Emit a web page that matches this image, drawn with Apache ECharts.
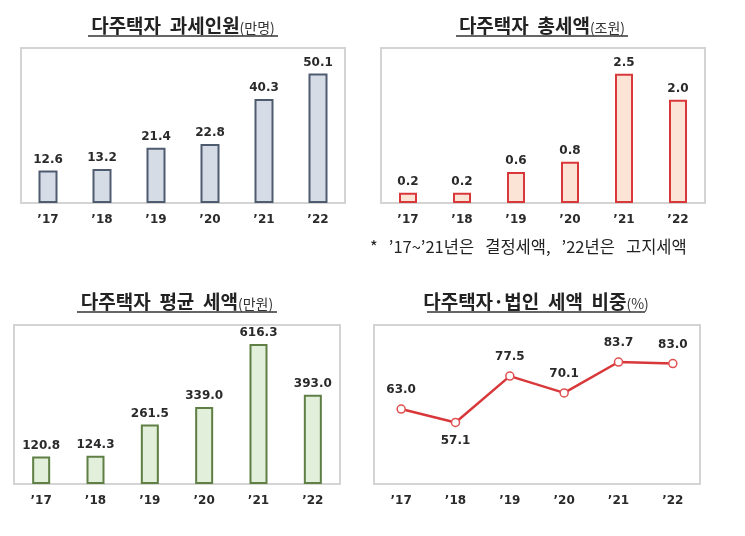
<!DOCTYPE html>
<html>
<head>
<meta charset="utf-8">
<script src="https://cdn.jsdelivr.net/npm/echarts@6/dist/echarts.min.js"></script>
<style>
html,body{margin:0;padding:0;background:#fff;}
#c{width:745px;height:536px;}
</style>
</head>
<body>
<div id="c"></div>
<script>
const years = ["’17", "’18", "’19", "’20", "’21", "’22"];
const taxpayers = [12.6, 13.2, 21.4, 22.8, 40.3, 50.1];
const totalTax = [0.2, 0.2, 0.6, 0.8, 2.5, 2.0];
const avgTax = [120.8, 124.3, 261.5, 339.0, 616.3, 393.0];
const share = [63.0, 57.1, 77.5, 70.1, 83.7, 83.0];
const shareLabelPos = ["top", "bottom", "top", "top", "top", "top"];

const FONT = '"Noto Sans CJK KR", "Noto Sans", sans-serif';
const NUMFONT = '"DejaVu Sans", Verdana, sans-serif';
const chart = echarts.init(document.getElementById('c'), null, {renderer: 'canvas'});

const grids = [
  {left: 21, top: 48, width: 324, height: 155},
  {left: 381, top: 48, width: 324, height: 155},
  {left: 14, top: 325, width: 326, height: 159},
  {left: 374, top: 325, width: 326, height: 159}
];
const yRange = [[0, 60], [0, 3], [0, 700], [30, 100]];

function titleText(main, sub, x, y, uw) {
  return [
    {type: 'text', x: x, y: y, style: {
      text: '{a|' + main + '}{b|' + sub + '}',
      align: 'center', verticalAlign: 'middle',
      rich: {
        a: {fontFamily: FONT, fontSize: 19, fontWeight: 'bold', fill: '#222'},
        b: {fontFamily: FONT, fontSize: 14, fill: '#333', padding: [3, 0, 0, 0]}
      }
    }},
    {type: 'line', shape: {x1: x - uw / 2, y1: y + 10, x2: x + uw / 2, y2: y + 10},
      style: {stroke: '#333', lineWidth: 1.5}}
  ];
}

const labelStyle = {fontFamily: NUMFONT, fontSize: 12, fontWeight: 'bold', color: '#2a2a2a'};
const fmt = p => Number(p.value).toFixed(1);

const option = {
  backgroundColor: '#fff',
  animation: false,
  grid: grids.map(g => Object.assign({show: true, borderColor: '#d4d4d4', borderWidth: 2, backgroundColor: '#fff', containLabel: false}, g)),
  xAxis: grids.map((g, i) => ({
    type: 'category', gridIndex: i, data: years, boundaryGap: true,
    axisLine: {show: false}, axisTick: {show: false},
    axisLabel: {fontFamily: NUMFONT, fontSize: 12, fontWeight: 'bold', color: '#2a2a2a', margin: 11}
  })),
  yAxis: grids.map((g, i) => ({
    type: 'value', gridIndex: i, min: yRange[i][0], max: yRange[i][1],
    show: false, splitLine: {show: false}
  })),
  series: [
    {type: 'bar', xAxisIndex: 0, yAxisIndex: 0, data: taxpayers, barWidth: 19,
      itemStyle: {color: '#d6dce5', borderColor: '#4f5b6e', borderWidth: 2},
      label: Object.assign({show: true, position: 'top', distance: 5, formatter: fmt}, labelStyle)},
    {type: 'bar', xAxisIndex: 1, yAxisIndex: 1, data: totalTax, barWidth: 18,
      itemStyle: {color: '#fbe3d6', borderColor: '#d9383a', borderWidth: 2},
      label: Object.assign({show: true, position: 'top', distance: 5, formatter: fmt}, labelStyle)},
    {type: 'bar', xAxisIndex: 2, yAxisIndex: 2, data: avgTax, barWidth: 18,
      itemStyle: {color: '#e2efda', borderColor: '#5f7f45', borderWidth: 2},
      label: Object.assign({show: true, position: 'top', distance: 5, formatter: fmt}, labelStyle)},
    {type: 'line', xAxisIndex: 3, yAxisIndex: 3,
      data: share.map((v, i) => ({value: v, label: {position: shareLabelPos[i]}})),
      symbol: 'circle', symbolSize: 8,
      lineStyle: {color: '#d9383a', width: 2.5},
      itemStyle: {color: '#fff', borderColor: '#e05050', borderWidth: 1.5},
      label: Object.assign({show: true, distance: 8, formatter: fmt}, labelStyle)}
  ],
  graphic: [].concat(
    titleText('다주택자  과세인원', '(만명)', 183, 26, 190),
    titleText('다주택자  총세액', '(조원)', 542, 26, 172),
    titleText('다주택자  평균  세액', '(만원)', 177, 302, 200),
    titleText('다주택자·법인  세액  비중', '(%)', 536, 302, 218),
    [{type: 'text', x: 370, y: 247, style: {
      text: '*   ’17~’21년은   결정세액,   ’22년은   고지세액',
      fontFamily: FONT, fontSize: 16.5, fill: '#222', verticalAlign: 'middle'
    }}]
  )
};
chart.setOption(option);
</script>
</body>
</html>
